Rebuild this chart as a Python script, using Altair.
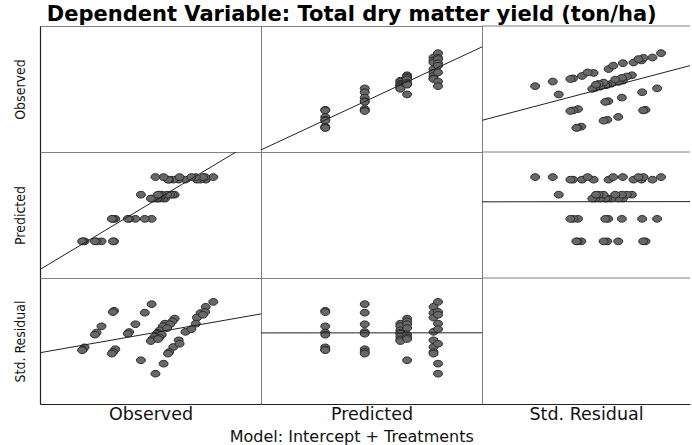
import altair as alt
import pandas as pd

# --- data (6 treatments x 8 replicates) ---
treatments = (["A"] * 8 + ["B"] * 8 + ["C1"] * 8 + ["C2"] * 8 +
              ["D1"] * 8 + ["D2"] * 8)
treatment_names = ["A", "B", "C1", "C2", "D1", "D2"]
treatment_means = [3.05, 4.80, 6.38, 6.68, 7.85, 8.05]

observed = [4.02, 3.96, 3.34, 3.07, 2.98, 2.42, 2.32, 2.29,
            6.06, 5.69, 5.18, 4.84, 4.77, 4.09, 3.97, 3.90,
            6.79, 6.68, 6.50, 6.39, 6.35, 6.22, 6.10, 6.02,
            7.31, 7.19, 7.06, 6.90, 6.61, 6.48, 6.41, 5.48,
            9.00, 8.72, 8.52, 7.90, 7.53, 7.24, 7.01, 6.95,
            9.41, 8.97, 8.85, 8.46, 8.22, 7.58, 6.71, 6.27]

std_residual = [1.17, 1.10, 0.35, 0.02, -0.09, -0.76, -0.88, -0.91,
                1.52, 1.07, 0.46, 0.05, -0.04, -0.86, -1.00, -1.09,
                0.49, 0.36, 0.14, 0.01, -0.04, -0.19, -0.34, -0.43,
                0.76, 0.61, 0.46, 0.26, -0.09, -0.24, -0.32, -1.44,
                1.38, 1.05, 0.81, 0.06, -0.39, -0.74, -1.01, -1.09,
                1.64, 1.11, 0.96, 0.49, 0.20, -0.57, -1.62, -2.15]

mean_of = dict(zip(treatment_names, treatment_means))
df = pd.DataFrame({
    "obs": observed,
    "pred": [mean_of[t] for t in treatments],
    "res": std_residual,
})

variables = ["obs", "pred", "res"]
labels = {"obs": "Observed", "pred": "Predicted", "res": "Std. Residual"}
# vertical (row) domains and horizontal (column) domains
ydomains = {"obs": [0, 12], "pred": [0.2, 10], "res": [-3.75, 2.9]}
xdomains = {"obs": [0, 12], "pred": [0.2, 10], "res": [-3.75, 2.51]}

H = 126
widths = [221, 221, 208]
ELLIPSE = "M-1,0A1,0.75,0,1,0,1,0A1,0.75,0,1,0,-1,0Z"
ROW_FONT = "Liberation Sans Narrow, DejaVu Sans Condensed, sans-serif"
COL_FONT = "DejaVu Sans, sans-serif"
BORDER = "#808080"


def panel(i, j):
    yv = variables[i]
    xv = variables[j]
    if i == 2:
        xaxis = alt.Axis(title=labels[xv], labels=False, ticks=False,
                         domain=True, domainColor="#222", domainWidth=1.2,
                         titleFont=COL_FONT, titleFontSize=17.5,
                         titleFontWeight="normal", titleColor="#111",
                         titlePadding=1, grid=False)
    else:
        xaxis = None
    if j == 0:
        yaxis = alt.Axis(title=labels[yv], labels=False, ticks=False,
                         domain=True, domainColor="#222", domainWidth=1.2,
                         titleFont=ROW_FONT, titleFontSize=14,
                         titleFontWeight="normal", titleColor="#111",
                         titlePadding=13, grid=False)
    else:
        yaxis = None
    x = alt.X(xv, type="quantitative",
              scale=alt.Scale(domain=xdomains[xv], nice=False, zero=False),
              axis=xaxis)
    y = alt.Y(yv, type="quantitative",
              scale=alt.Scale(domain=ydomains[yv], nice=False, zero=False),
              axis=yaxis)
    base = alt.Chart(df)
    layers = []
    if i == j:
        layers.append(base.mark_point(opacity=0).encode(x=x, y=y))
    else:
        layers.append(base.mark_point(shape=ELLIPSE, size=80, filled=True,
                                      fill="#686868", stroke="#2a2a2a",
                                      strokeWidth=1, opacity=1
                                      ).encode(x=x, y=y))
        layers.append(base.transform_regression(
            xv, yv, extent=xdomains[xv]
        ).mark_line(color="#222", strokeWidth=1, clip=True).encode(x=x, y=y))
    props = {"width": widths[j], "height": H}
    if j == 2:
        # right column runs off the picture: draw only its top edge
        layers.append(alt.Chart(pd.DataFrame({"edge": [0]}))
                      .mark_rule(color=BORDER, strokeWidth=1)
                      .encode(y=alt.value(0)))
        props["view"] = alt.ViewBackground(stroke="transparent")
    return alt.layer(*layers).properties(**props)


panels = [panel(i, j) for i in range(3) for j in range(3)]

grid = alt.concat(*panels, columns=3, spacing=0, bounds="flush").properties(
    title=alt.TitleParams("Model: Intercept + Treatments", orient="bottom",
                          font=COL_FONT, fontSize=16, fontWeight="normal",
                          color="#111", anchor="middle", offset=6)
)

chart = alt.vconcat(
    grid,
    title=alt.TitleParams("Dependent Variable: Total dry matter yield (ton/ha)",
                          font=COL_FONT, fontSize=21, fontWeight="bold",
                          color="#000", anchor="middle", offset=0),
).properties(
    padding={"left": 12, "top": 4, "right": 0, "bottom": 0},
    background="white",
).configure_view(stroke=BORDER, strokeWidth=1)

chart.save("out.html", embed_options={"renderer": "svg", "actions": False})
